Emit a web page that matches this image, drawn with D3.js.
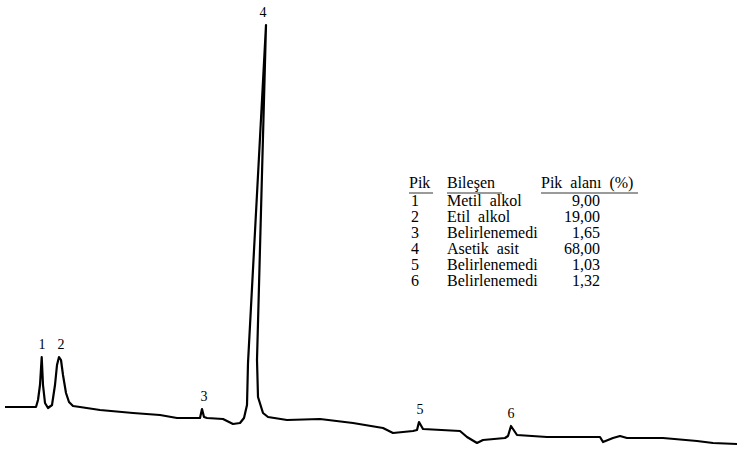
<!DOCTYPE html>
<html>
<head>
<meta charset="utf-8">
<script src="https://cdn.jsdelivr.net/npm/d3@7"></script>
<style>
  body { margin: 0; background: #fff; }
  svg { display: block; font-family: "Liberation Serif", "DejaVu Serif", serif; }
</style>
</head>
<body>
<svg id="chart" width="739" height="451"></svg>
<script>
// kromatogram izi: [alikonma süresi (dk), sinyal]
const trace = [
  [0, 9.5], [0.75, 9.5], [1.55, 9.5], [1.65, 11.25], [1.75, 15], [1.835, 22], [1.9, 15],
  [2.0, 10.5], [2.15, 9.25], [2.35, 10], [2.5, 15], [2.6, 20], [2.7, 22], [2.8, 21.25],
  [2.9, 17.5], [3.05, 13], [3.2, 10.75], [3.4, 9.75], [3.75, 9.5], [4.75, 8.75], [6.4, 8],
  [7.75, 7.5], [8.6, 6.75], [9.1, 6.75], [9.75, 6.75], [9.85, 9], [9.95, 7], [10.1, 6.75],
  [10.9, 6.5], [11.4, 5.25], [11.75, 5.5], [11.95, 6.75], [12.1, 10], [12.15, 20.5],
  [13.05, 105], [12.6, 21.25], [12.65, 12], [12.9, 8], [13.15, 7], [14.1, 6.25],
  [15.75, 6.5], [17.4, 5.5], [18.9, 4.25], [19.4, 3], [20.4, 3.5], [20.6, 3.75],
  [20.7, 5.75], [20.9, 4], [22.75, 3.5], [23.1, 2], [23.6, 0.5], [23.9, 1.25], [25.0, 1.75],
  [25.15, 2.25], [25.3, 4.75], [25.6, 2.5], [27.1, 2], [29.75, 2], [29.9, 0.75],
  [30.4, 1.75], [30.75, 2.25], [31.1, 1.75], [32.9, 1.75], [34.6, 1], [35.4, 0.5], [36.6, 0.25]
]

// pik etiketleri
const pikNo = ['1', '2', '3', '4', '5', '6']
const pikTime = [1.85, 2.8, 9.95, 12.9, 20.75, 25.3]
const pikHeight = [22, 22, 9, 105, 5.75, 4.75]

// tablo
const tableHeader = ['Pik', 'Bileşen', 'Pik alanı (%)']
const bilesen = ['Metil alkol', 'Etil alkol', 'Belirlenemedi', 'Asetik asit', 'Belirlenemedi', 'Belirlenemedi']
const pikAlani = ['9,00', '19,00', '1,65', '68,00', '1,03', '1,32']

const svg = d3.select('#chart')

const x = d3.scaleLinear().domain([0, 36.6]).range([5, 737])
const y = d3.scaleLinear().domain([0, 105]).range([445, 25])

const line = d3.line()
  .x(d => x(d[0]))
  .y(d => y(d[1]))

svg.append('path')
  .datum(trace)
  .attr('d', line)
  .attr('fill', 'none')
  .attr('stroke', '#000')
  .attr('stroke-width', 2.2)
  .attr('stroke-linejoin', 'round')

// pik numaraları
svg.selectAll('.pik-label')
  .data(pikNo)
  .join('text')
  .attr('class', 'pik-label')
  .attr('x', (d, i) => x(pikTime[i]))
  .attr('y', (d, i) => y(pikHeight[i]) - 8)
  .attr('text-anchor', 'middle')
  .attr('font-size', 14)
  .text(d => d)

// tablo
const table = svg.append('g')
  .attr('font-size', 16)
  .attr('word-spacing', 4)
const colX = [409, 447, 541]
const rowY = d3.range(6).map(i => 206 + i * 16)

table.selectAll('.head')
  .data(tableHeader)
  .join('text')
  .attr('class', 'head')
  .attr('x', (d, i) => colX[i])
  .attr('y', 188)
  .text(d => d)

// başlık alt çizgileri
const underline = [[409, 433], [447, 502], [541, 638]]
table.selectAll('.uline')
  .data(underline)
  .join('line')
  .attr('class', 'uline')
  .attr('x1', d => d[0])
  .attr('x2', d => d[1])
  .attr('y1', 193)
  .attr('y2', 193)
  .attr('stroke', '#000')
  .attr('stroke-width', 0.8)

const rows = table.selectAll('.row')
  .data(bilesen)
  .join('g')
  .attr('class', 'row')
  .attr('transform', (d, i) => `translate(0, ${rowY[i]})`)

rows.append('text')
  .attr('x', 411)
  .text((d, i) => pikNo[i])

rows.append('text')
  .attr('x', colX[1])
  .text(d => d)

rows.append('text')
  .attr('x', 600)
  .attr('text-anchor', 'end')
  .text((d, i) => pikAlani[i])
</script>
</body>
</html>
